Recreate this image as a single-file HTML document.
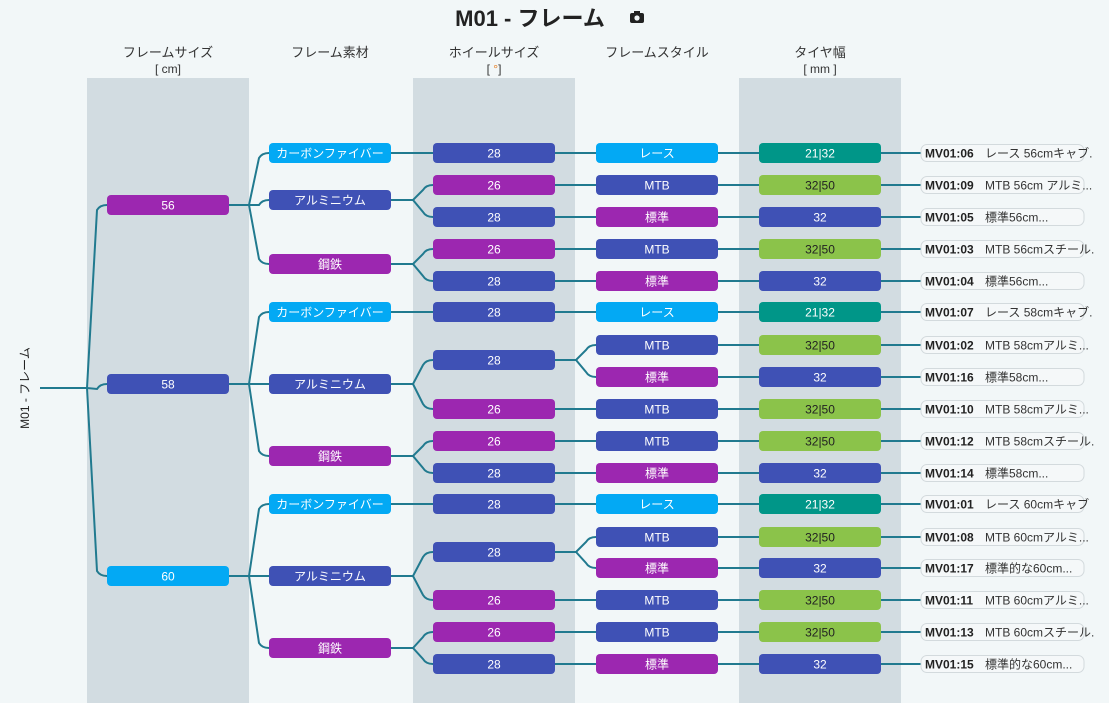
<!DOCTYPE html>
<html><head><meta charset="utf-8"><style>
body{margin:0;background:#f2f7f8;}
svg{display:block;font-family:"Liberation Sans","Noto Sans CJK JP",sans-serif;}
</style></head><body>
<svg id="s" width="1109" height="703" xmlns="http://www.w3.org/2000/svg">
<rect width="1109" height="703" fill="#f2f7f8"/>
<rect x="87" y="78" width="162" height="625" fill="#d2dce1"/>
<rect x="413" y="78" width="162" height="625" fill="#d2dce1"/>
<rect x="739" y="78" width="162" height="625" fill="#d2dce1"/>
<text x="530" y="26" font-size="22" text-anchor="middle" fill="#222" font-weight="bold">M01 - フレーム</text>
<g transform="translate(637,18)"><rect x="-7" y="-5" width="14" height="10" rx="2" fill="#222"/><rect x="-3" y="-7" width="6" height="3" fill="#222"/><circle cx="0" cy="0" r="2.6" fill="#f2f7f8"/></g>
<g font-size="13" fill="#333" text-anchor="middle">
<text x="168" y="57">フレームサイズ</text><text x="168" y="73" font-size="12">[ cm]</text>
<text x="330" y="57">フレーム素材</text>
<text x="494" y="57">ホイールサイズ</text><text x="494" y="73" font-size="12">[ <tspan fill="#e67e22">°</tspan>]</text>
<text x="657" y="57">フレームスタイル</text>
<text x="820" y="57">タイヤ幅</text><text x="820" y="73" font-size="12">[ mm ]</text>
</g>
<text transform="translate(29,388) rotate(-90)" font-size="12" text-anchor="middle" fill="#222">M01 - フレーム</text>
<g id="lines" fill="none" stroke="#217a8f" stroke-width="2"></g>
<g id="nodes"></g>
</svg>
<script>
var C={p:"#9c27b0",i:"#3f51b5",b:"#03a9f4",t:"#009688",g:"#8bc34a"};
var X=[107,269,433,596,759];
var L=document.getElementById('lines'),N=document.getElementById('nodes');
var ns="http://www.w3.org/2000/svg";
function el(p,t,a){var e=document.createElementNS(ns,t);for(var k in a)e.setAttribute(k,a[k]);p.appendChild(e);return e;}
function node(c,y,txt,col,dark){el(N,'rect',{x:X[c],y:y-10,width:122,height:20,rx:4,fill:C[col]});var t=el(N,'text',{x:X[c]+61,y:y+4.5,'font-size':12,'text-anchor':'middle',fill:dark?'#222':'#fff'});t.textContent=txt;}
function conn(px,py,bx,cx,cy){var d='M'+px+','+py+' H'+bx;if(Math.abs(cy-py)<1){d+=' H'+cx;}else{var s=cy>py?1:-1,g=cx-bx;d+=' L'+(bx+g*0.5)+','+(cy-s*5)+' Q'+(bx+g*0.65)+','+cy+' '+cx+','+cy;}el(L,'path',{d:d});}
function leaf(y,id,desc){conn(881,y,901,921,y);el(N,'rect',{x:921,y:y-8.5,width:163,height:17,rx:6,fill:'#f5f8f9',stroke:'#d3dadd'});var t=el(N,'text',{x:925,y:y+4.5,'font-size':12,fill:'#222','font-weight':'bold'});t.textContent=id;var u=el(N,'text',{x:985,y:y+4.5,'font-size':12,fill:'#333'});u.textContent=desc;}
// root
el(L,'path',{d:'M40,388 H87'});
var tree=[
 [205,'56','p',[
  [153,'カーボンファイバー','b',[[153,'28','i',[[153,'レース','b','21|32','t','MV01:06','レース 56cmキャブ.']]]]],
  [200,'アルミニウム','i',[[185,'26','p',[[185,'MTB','i','32|50','g','MV01:09','MTB 56cm アルミ...']]],[217,'28','i',[[217,'標準','p','32','i','MV01:05','標準56cm...']]]]],
  [264,'鋼鉄','p',[[249,'26','p',[[249,'MTB','i','32|50','g','MV01:03','MTB 56cmスチール.']]],[281,'28','i',[[281,'標準','p','32','i','MV01:04','標準56cm...']]]]]]],
 [384,'58','i',[
  [312,'カーボンファイバー','b',[[312,'28','i',[[312,'レース','b','21|32','t','MV01:07','レース 58cmキャブ.']]]]],
  [384,'アルミニウム','i',[[360,'28','i',[[345,'MTB','i','32|50','g','MV01:02','MTB 58cmアルミ...'],[377,'標準','p','32','i','MV01:16','標準58cm...']]],[409,'26','p',[[409,'MTB','i','32|50','g','MV01:10','MTB 58cmアルミ...']]]]],
  [456,'鋼鉄','p',[[441,'26','p',[[441,'MTB','i','32|50','g','MV01:12','MTB 58cmスチール.']]],[473,'28','i',[[473,'標準','p','32','i','MV01:14','標準58cm...']]]]]]],
 [576,'60','b',[
  [504,'カーボンファイバー','b',[[504,'28','i',[[504,'レース','b','21|32','t','MV01:01','レース 60cmキャブ']]]]],
  [576,'アルミニウム','i',[[552,'28','i',[[537,'MTB','i','32|50','g','MV01:08','MTB 60cmアルミ...'],[568,'標準','p','32','i','MV01:17','標準的な60cm...']]],[600,'26','p',[[600,'MTB','i','32|50','g','MV01:11','MTB 60cmアルミ...']]]]],
  [648,'鋼鉄','p',[[632,'26','p',[[632,'MTB','i','32|50','g','MV01:13','MTB 60cmスチール.']]],[664,'28','i',[[664,'標準','p','32','i','MV01:15','標準的な60cm...']]]]]]]
];
tree.forEach(function(a){conn(87,388,87,107,a[0]);node(0,a[0],a[1],a[2]);
 a[3].forEach(function(b){conn(229,a[0],249,269,b[0]);node(1,b[0],b[1],b[2]);
  b[3].forEach(function(c){conn(391,b[0],413,433,c[0]);node(2,c[0],c[1],c[2]);
   c[3].forEach(function(d){conn(555,c[0],576,596,d[0]);node(3,d[0],d[1],d[2]);conn(718,d[0],739,759,d[0]);node(4,d[0],d[3],d[4],d[4]=='g');leaf(d[0],d[5],d[6]);});});});});
</script>
</body></html>
